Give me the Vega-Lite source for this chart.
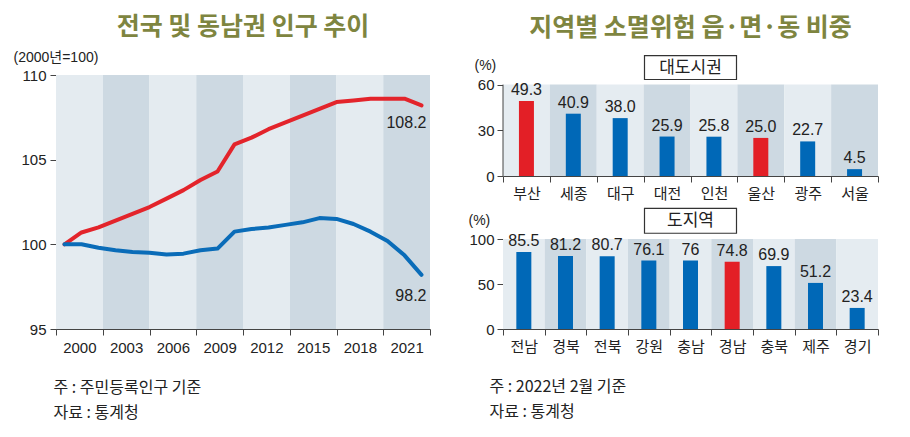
{
  "$schema": "https://vega.github.io/schema/vega-lite/v6.json",
  "padding": {"left": 13, "top": 15, "right": 0, "bottom": 0},
  "background": "white",
  "config": {
    "font": "Liberation Sans, Noto Sans CJK KR",
    "view": {"stroke": null},
    "title": {"font": "Noto Sans CJK KR", "fontSize": 25, "fontWeight": "bold", "color": "#7e8540"},
    "axis": {"labelFontSize": 15, "labelColor": "#222", "domainColor": "#444", "tickColor": "#444", "tickSize": 6, "grid": false, "titleColor": "#222", "titleFontWeight": "normal", "titleFontSize": 14}
  },
  "datasets": {
    "bandsL": [
      {"p": "2000", "s": "a"}, {"p": "2003", "s": "b"}, {"p": "2006", "s": "a"}, {"p": "2009", "s": "b"},
      {"p": "2012", "s": "a"}, {"p": "2015", "s": "b"}, {"p": "2018", "s": "a"}, {"p": "2021", "s": "b"}
    ],
    "pop": [
      {"year": 2000, "region": "전국", "value": 100.0},
      {"year": 2001, "region": "전국", "value": 100.7},
      {"year": 2002, "region": "전국", "value": 101.0},
      {"year": 2003, "region": "전국", "value": 101.4},
      {"year": 2004, "region": "전국", "value": 101.8},
      {"year": 2005, "region": "전국", "value": 102.2},
      {"year": 2006, "region": "전국", "value": 102.7},
      {"year": 2007, "region": "전국", "value": 103.2},
      {"year": 2008, "region": "전국", "value": 103.8},
      {"year": 2009, "region": "전국", "value": 104.3},
      {"year": 2010, "region": "전국", "value": 105.9},
      {"year": 2011, "region": "전국", "value": 106.3},
      {"year": 2012, "region": "전국", "value": 106.8},
      {"year": 2013, "region": "전국", "value": 107.2},
      {"year": 2014, "region": "전국", "value": 107.6},
      {"year": 2015, "region": "전국", "value": 108.0},
      {"year": 2016, "region": "전국", "value": 108.4},
      {"year": 2017, "region": "전국", "value": 108.5},
      {"year": 2018, "region": "전국", "value": 108.6},
      {"year": 2019, "region": "전국", "value": 108.6},
      {"year": 2020, "region": "전국", "value": 108.6},
      {"year": 2021, "region": "전국", "value": 108.2},
      {"year": 2000, "region": "동남권", "value": 100.0},
      {"year": 2001, "region": "동남권", "value": 100.0},
      {"year": 2002, "region": "동남권", "value": 99.8},
      {"year": 2003, "region": "동남권", "value": 99.65},
      {"year": 2004, "region": "동남권", "value": 99.55},
      {"year": 2005, "region": "동남권", "value": 99.5},
      {"year": 2006, "region": "동남권", "value": 99.4},
      {"year": 2007, "region": "동남권", "value": 99.45},
      {"year": 2008, "region": "동남권", "value": 99.65},
      {"year": 2009, "region": "동남권", "value": 99.75},
      {"year": 2010, "region": "동남권", "value": 100.75},
      {"year": 2011, "region": "동남권", "value": 100.9},
      {"year": 2012, "region": "동남권", "value": 101.0},
      {"year": 2013, "region": "동남권", "value": 101.15},
      {"year": 2014, "region": "동남권", "value": 101.3},
      {"year": 2015, "region": "동남권", "value": 101.55},
      {"year": 2016, "region": "동남권", "value": 101.5},
      {"year": 2017, "region": "동남권", "value": 101.2},
      {"year": 2018, "region": "동남권", "value": 100.75},
      {"year": 2019, "region": "동남권", "value": 100.2},
      {"year": 2020, "region": "동남권", "value": 99.35},
      {"year": 2021, "region": "동남권", "value": 98.2}
    ],
    "metro": [
      {"area": "부산", "v": 49.3, "label": "49.3", "grp": "동남권", "s": "a"},
      {"area": "세종", "v": 40.9, "label": "40.9", "grp": "기타", "s": "b"},
      {"area": "대구", "v": 38.0, "label": "38.0", "grp": "기타", "s": "a"},
      {"area": "대전", "v": 25.9, "label": "25.9", "grp": "기타", "s": "b"},
      {"area": "인천", "v": 25.8, "label": "25.8", "grp": "기타", "s": "a"},
      {"area": "울산", "v": 25.0, "label": "25.0", "grp": "동남권", "s": "b"},
      {"area": "광주", "v": 22.7, "label": "22.7", "grp": "기타", "s": "a"},
      {"area": "서울", "v": 4.5, "label": "4.5", "grp": "기타", "s": "b"}
    ],
    "prov": [
      {"area": "전남", "v": 85.5, "label": "85.5", "grp": "기타", "s": "a"},
      {"area": "경북", "v": 81.2, "label": "81.2", "grp": "기타", "s": "b"},
      {"area": "전북", "v": 80.7, "label": "80.7", "grp": "기타", "s": "a"},
      {"area": "강원", "v": 76.1, "label": "76.1", "grp": "기타", "s": "b"},
      {"area": "충남", "v": 76.0, "label": "76", "grp": "기타", "s": "a"},
      {"area": "경남", "v": 74.8, "label": "74.8", "grp": "동남권", "s": "b"},
      {"area": "충북", "v": 69.9, "label": "69.9", "grp": "기타", "s": "a"},
      {"area": "제주", "v": 51.2, "label": "51.2", "grp": "기타", "s": "b"},
      {"area": "경기", "v": 23.4, "label": "23.4", "grp": "기타", "s": "a"}
    ]
  },
  "hconcat": [
    {
      "vconcat": [
        {
          "width": 374,
          "height": 254,
          "title": {"text": "전국 및 동남권 인구 추이", "frame": "group", "anchor": "middle", "offset": 10},
          "layer": [
            {
              "data": {"name": "bandsL"},
              "mark": {"type": "rect"},
              "encoding": {
                "x": {"field": "p", "type": "ordinal", "sort": null, "scale": {"paddingInner": 0, "paddingOuter": 0},
                  "axis": {"labelAngle": 0, "tickBand": "extent", "labelPadding": 5,
                    "title": ["주 : 주민등록인구 기준", "자료 : 통계청"], "titleX": -3, "titleY": 50, "titleAlign": "left", "titleBaseline": "top", "titleAnchor": "start",
                    "titleFont": "Noto Sans CJK KR", "titleFontSize": 16, "titleLineHeight": 25}},
                "color": {"field": "s", "type": "nominal", "scale": {"domain": ["a", "b"], "range": ["#e4ebf0", "#cdd9e2"]}, "legend": null}
              }
            },
            {
              "data": {"name": "pop"},
              "layer": [
                {
                  "mark": {"type": "line", "strokeWidth": 4, "strokeCap": "round", "strokeJoin": "round"},
                  "encoding": {
                    "x": {"field": "year", "type": "quantitative", "scale": {"domain": [1999.5, 2021.5], "nice": false, "zero": false}, "axis": null},
                    "y": {"field": "value", "type": "quantitative", "scale": {"domain": [95, 110], "nice": false, "zero": false},
                      "axis": {"values": [95, 100, 105, 110], "labelPadding": 4, "title": "(2000년=100)", "titleAngle": 0, "titleX": -43, "titleY": -18, "titleAlign": "left", "titleBaseline": "middle"}},
                    "color": {"field": "region", "type": "nominal", "scale": {"domain": ["전국", "동남권"], "range": ["#e3242b", "#0a6cb8"]}, "legend": null}
                  }
                },
                {
                  "transform": [{"filter": "datum.year == 2021 && datum.region == '전국'"}],
                  "mark": {"type": "text", "align": "right", "baseline": "middle", "dx": 5, "dy": 18, "fontSize": 16, "color": "#222"},
                  "encoding": {
                    "x": {"field": "year", "type": "quantitative", "axis": null},
                    "y": {"field": "value", "type": "quantitative"},
                    "text": {"field": "value", "type": "quantitative", "format": ".1f"}
                  }
                },
                {
                  "transform": [{"filter": "datum.year == 2021 && datum.region == '동남권'"}],
                  "mark": {"type": "text", "align": "right", "baseline": "middle", "dx": 5, "dy": 21, "fontSize": 16, "color": "#222"},
                  "encoding": {
                    "x": {"field": "year", "type": "quantitative", "axis": null},
                    "y": {"field": "value", "type": "quantitative"},
                    "text": {"field": "value", "type": "quantitative", "format": ".1f"}
                  }
                }
              ]
            }
          ],
          "resolve": {"scale": {"x": "independent", "color": "independent"}}
        }
      ]
    },
    {
      "spacing": 5,
      "vconcat": [
        {
          "width": 375,
          "height": 101,
          "title": {"text": "지역별 소멸위험 읍·면·동 비중", "frame": "group", "anchor": "middle", "offset": 12},
          "data": {"name": "metro"},
          "layer": [
            {
              "mark": {"type": "rect"},
              "encoding": {
                "x": {"field": "area", "type": "nominal", "sort": null, "scale": {"paddingInner": 0, "paddingOuter": 0},
                  "axis": {"title": null, "labelAngle": 0, "tickBand": "extent", "labelPadding": 4, "labelFont": "Noto Sans CJK KR"}},
                "y": {"datum": 0, "type": "quantitative"},
                "y2": {"datum": 60},
                "color": {"field": "s", "type": "nominal", "scale": {"domain": ["a", "b"], "range": ["#e5ecf1", "#cdd9e2"]}, "legend": null}
              }
            },
            {
              "mark": {"type": "bar", "size": 15},
              "encoding": {
                "x": {"field": "area", "type": "nominal", "sort": null},
                "y": {"field": "v", "type": "quantitative", "scale": {"domain": [0, 66.3], "nice": false},
                  "axis": {"values": [0, 30, 60], "domain": false, "labelPadding": 3, "title": "(%)", "titleAngle": 0, "titleX": -29, "titleY": -10, "titleAlign": "left", "titleBaseline": "middle"}},
                "fill": {"field": "grp", "type": "nominal", "scale": {"domain": ["동남권", "기타"], "range": ["#e31f26", "#0068b7"]}, "legend": null}
              }
            },
            {
              "data": {"values": [{"edge": "axis"}]},
              "mark": {"type": "rule", "color": "#444", "strokeWidth": 1},
              "encoding": {
                "x": {"datum": "부산", "bandPosition": 0},
                "y": {"datum": 0, "type": "quantitative"},
                "y2": {"datum": 60}
              }
            },
            {
              "mark": {"type": "text", "baseline": "bottom", "dy": -3, "fontSize": 16, "color": "#222"},
              "encoding": {
                "x": {"field": "area", "type": "nominal", "sort": null},
                "y": {"field": "v", "type": "quantitative"},
                "text": {"field": "label", "type": "nominal"}
              }
            },
            {
              "data": {"values": [{"box": "대도시권"}]},
              "mark": {"type": "point", "shape": "M-1,-0.26H1V0.26H-1Z", "size": 8464, "filled": true, "fill": "white", "stroke": "#333", "strokeWidth": 1.2, "opacity": 1},
              "encoding": {"y": {"datum": 71.2, "type": "quantitative"}}
            },
            {
              "data": {"values": [{"box": "대도시권"}]},
              "mark": {"type": "text", "font": "Noto Sans CJK KR", "fontSize": 17, "color": "#222", "baseline": "middle"},
              "encoding": {"y": {"datum": 71.2, "type": "quantitative"}, "text": {"field": "box", "type": "nominal"}}
            }
          ],
          "resolve": {"scale": {"color": "independent"}}
        },
        {
          "width": 375,
          "height": 90,
          "data": {"name": "prov"},
          "layer": [
            {
              "mark": {"type": "rect"},
              "encoding": {
                "x": {"field": "area", "type": "nominal", "sort": null, "scale": {"paddingInner": 0, "paddingOuter": 0},
                  "axis": {"labelAngle": 0, "tickBand": "extent", "labelPadding": 4, "labelFont": "Noto Sans CJK KR",
                    "title": ["주 : 2022년 2월 기준", "자료 : 통계청"], "titleX": -14, "titleY": 49, "titleAlign": "left", "titleBaseline": "top", "titleAnchor": "start",
                    "titleFont": "Noto Sans CJK KR", "titleFontSize": 16, "titleLineHeight": 25}},
                "color": {"field": "s", "type": "nominal", "scale": {"domain": ["a", "b"], "range": ["#e5ecf1", "#cdd9e2"]}, "legend": null}
              }
            },
            {
              "mark": {"type": "bar", "size": 15},
              "encoding": {
                "x": {"field": "area", "type": "nominal", "sort": null},
                "y": {"field": "v", "type": "quantitative", "scale": {"domain": [0, 100], "nice": false},
                  "axis": {"values": [0, 50, 100], "labelPadding": 3, "title": "(%)", "titleAngle": 0, "titleX": -35, "titleY": -19, "titleAlign": "left", "titleBaseline": "middle"}},
                "fill": {"field": "grp", "type": "nominal", "scale": {"domain": ["동남권", "기타"], "range": ["#e31f26", "#0068b7"]}, "legend": null}
              }
            },
            {
              "mark": {"type": "text", "baseline": "bottom", "dy": -3, "fontSize": 16, "color": "#222"},
              "encoding": {
                "x": {"field": "area", "type": "nominal", "sort": null},
                "y": {"field": "v", "type": "quantitative"},
                "text": {"field": "label", "type": "nominal"}
              }
            },
            {
              "data": {"values": [{"box": "도지역"}]},
              "mark": {"type": "point", "shape": "M-1,-0.27H1V0.27H-1Z", "size": 8464, "filled": true, "fill": "white", "stroke": "#333", "strokeWidth": 1.2, "opacity": 1},
              "encoding": {"y": {"datum": 120.2, "type": "quantitative"}}
            },
            {
              "data": {"values": [{"box": "도지역"}]},
              "mark": {"type": "text", "font": "Noto Sans CJK KR", "fontSize": 17, "color": "#222", "baseline": "middle"},
              "encoding": {"y": {"datum": 120.2, "type": "quantitative"}, "text": {"field": "box", "type": "nominal"}}
            }
          ],
          "resolve": {"scale": {"color": "independent"}}
        }
      ]
    }
  ],
  "spacing": 37
}
